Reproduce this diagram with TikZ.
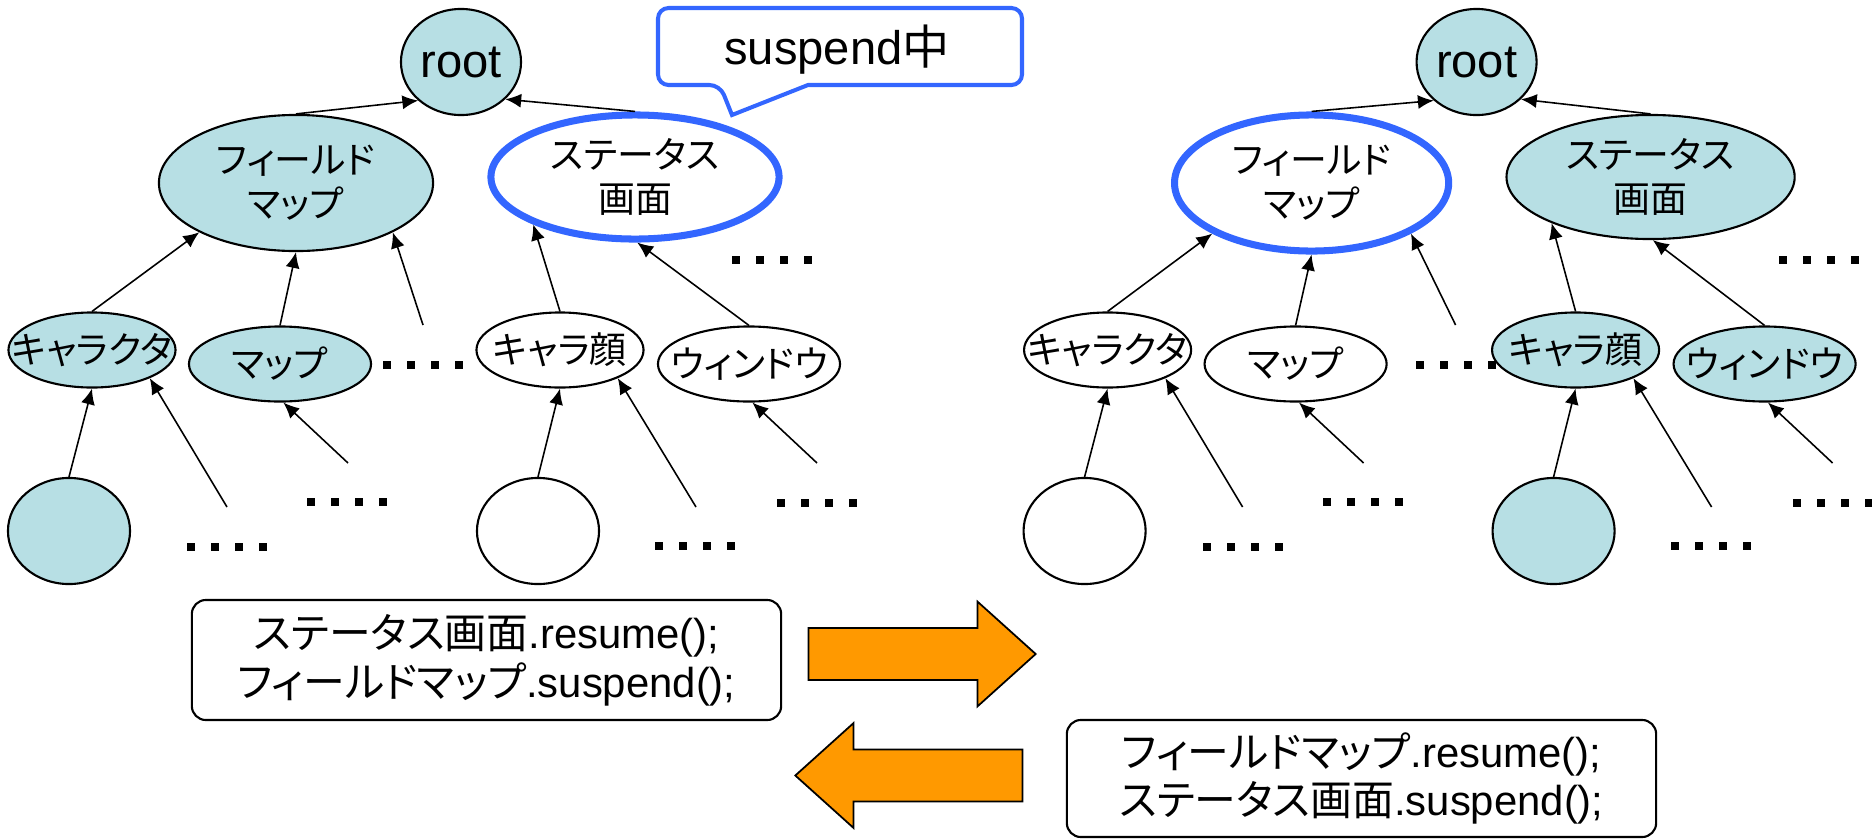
\documentclass[tikz,border=0pt]{standalone}
\usepackage{fontspec}
\setmainfont{Liberation Sans}
\newfontfamily\jp[RawFeature=+palt]{Noto Sans CJK JP}
\usetikzlibrary{arrows.meta,shapes.geometric,shapes.arrows}
\definecolor{nodeteal}{RGB}{183,223,228}
\definecolor{selblue}{RGB}{51,102,255}
\definecolor{flowor}{RGB}{255,153,0}

\tikzset{
  obj/.style={ellipse,draw,line width=0.6pt,inner sep=0pt},
  on/.style={fill=nodeteal},
  off/.style={fill=white},
  cur/.style={draw=selblue,line width=2pt},
  every label/.style={font=\jp\fontsize{10.5}{12.5}\selectfont,align=center,inner sep=0pt},
  link/.style={->,line width=0.45pt},
  callout/.style={draw=selblue,line width=1.15pt},
  cmd/.style={draw,rounded corners=4pt,line width=0.6pt,minimum width=5.89cm,minimum height=1.2cm,
    align=center,font=\fontsize{11.9}{13.9}\selectfont},
  flow/.style={single arrow,draw,fill=flowor,line width=0.5pt,inner xsep=0pt,inner ysep=0.25cm,
    minimum height=2.27cm,minimum width=1.03cm,single arrow head extend=0.265cm,single arrow tip angle=84,anchor=tip},
  dotrow/.pic={\foreach \k in {0,...,3} \fill (\k*24,-4) rectangle ++(8,8);}
}

% one task tree: #1 prefix, #2 field look, #3 status look, #4 #5 fills of the subtrees,
% #6 loose link into field, #7 middle dots, #8 dots beside status
\newcommand{\drawtree}[8]{%
  \node[obj,on,minimum width=1.2cm,minimum height=1.06cm,font=\fontsize{13.4}{16}\selectfont] (#1root) at (461,62) {root};
  \node[obj,#2,minimum width=2.74cm,minimum height=1.36cm,label={center:フィールド\\マップ}] (#1field) at (296,183) {};
  \node[obj,#3,minimum width=2.88cm,minimum height=1.24cm,label={center:ステータス\\画面}] (#1stat) at (635,177) {};
  \node[obj,#4,minimum width=1.67cm,minimum height=0.75cm,label={center:キャラクタ}] (#1chr) at (92,350) {};
  \node[obj,#4,minimum width=1.82cm,minimum height=0.75cm,label={center:マップ}] (#1map) at (280,364) {};
  \node[obj,#5,minimum width=1.67cm,minimum height=0.75cm,label={center:キャラ顔}] (#1face) at (560,350) {};
  \node[obj,#5,minimum width=1.82cm,minimum height=0.75cm,label={center:ウィンドウ}] (#1win) at (749,364) {};
  \node[obj,#4,minimum width=1.22cm,minimum height=1.06cm] (#1leafa) at (69,531) {};
  \node[obj,#5,minimum width=1.22cm,minimum height=1.06cm] (#1leafb) at (538,531) {};
  \coordinate (#1fx) at (#6,325);
  \coordinate (#1cx) at (227,507);
  \coordinate (#1mx) at (348,463);
  \coordinate (#1gx) at (696,507);
  \coordinate (#1wx) at (817,463);
  \draw[link] (#1field.north) -- (#1root.222);
  \draw[link] (#1stat.north) -- (#1root.320);
  \draw[link] (#1chr.north) -- (#1field.207);
  \draw[link] (#1map.north) -- (#1field.south);
  \draw[link] (#1fx) -- (#1field.333);
  \draw[link] (#1face.north) -- (#1stat.205);
  \draw[link] (#1win.north) -- (#1stat.272);
  \draw[link] (#1leafa.north) -- (#1chr.south);
  \draw[link] (#1cx) -- (#1chr.334);
  \draw[link] (#1mx) -- (#1map.275);
  \draw[link] (#1leafb.north) -- (#1face.south);
  \draw[link] (#1gx) -- (#1face.334);
  \draw[link] (#1wx) -- (#1win.275);
  \pic at (#8,260) {dotrow};
  \pic at (#7,365) {dotrow};
  \pic at (307,502) {dotrow};
  \pic at (187,547) {dotrow};
  \pic at (777,503) {dotrow};
  \pic at (655,546) {dotrow};
}

\begin{document}
\begin{tikzpicture}[x=0.01cm,y=-0.01cm,>={Latex[length=4.5pt,width=4pt]}]
  \useasboundingbox (0,0) rectangle (1872,839);

  % before: status screen suspended
  \drawtree{L}{on}{off,cur}{on}{off}{423}{383}{732}
  % after: field map suspended
  \begin{scope}[xshift=10.15cm]
    \drawtree{R}{off,cur}{on}{off}{on}{440}{400}{763}
  \end{scope}

  \node[font=\fontsize{13.4}{16}\selectfont] (susp) at (837,50) {suspend{\jp 中}};
  \draw[callout] (720,85) -- (732,115) -- (808,85) [rounded corners=3pt] -- (1022,85) -- (1022,8) -- (658,8) -- (658,85) -- cycle;

  \node[cmd] (toR) at (486.5,660) {{\jp ステータス画面}.resume();\\{\jp フィールドマップ}.suspend();};
  \node[cmd,minimum height=1.17cm] (toL) at (1361.5,778.5) {{\jp フィールドマップ}.resume();\\{\jp ステータス画面}.suspend();};

  \node[flow] (fwd) at (1037,654) {};
  \node[flow,shape border rotate=180] (back) at (794,775.5) {};
\end{tikzpicture}
\end{document}
